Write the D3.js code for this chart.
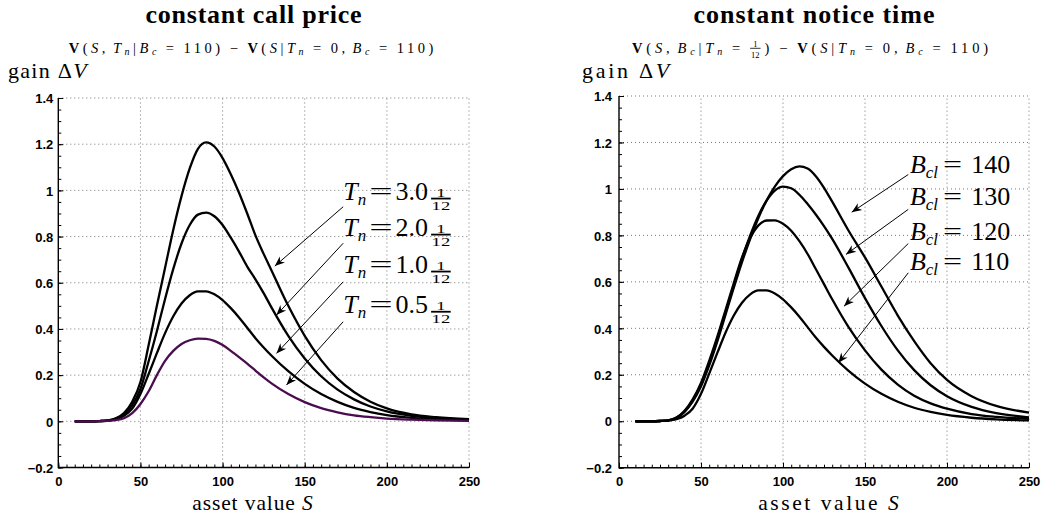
<!DOCTYPE html>
<html>
<head>
<meta charset="utf-8">
<script src="https://cdn.jsdelivr.net/npm/d3@7"></script>
<style>
  body { margin: 0; background: #fff; }
  svg { display: block; }
  text { white-space: pre; }
</style>
</head>
<body>
<svg id="fig" width="1044" height="518"></svg>
<script>
// ---- data -------------------------------------------------------------
// asset values S at which the gain curves are sampled
const assetValues = [10,20,25,30,35,40,45,50,55,60,65,70,75,80,85,90,95,100,105,110,
                     115,120,125,130,140,150,160,170,180,190,200,215,230,250];

// left panel: call barrier fixed at 110, notice time T_n varies
const gainTn30 = [0,0,0.001,0.004,0.013,0.036,0.085,0.17,0.33,0.5,0.665,0.83,0.975,1.095,1.18,1.208,1.19,1.14,1.07,0.99,
                  0.9,0.805,0.725,0.65,0.5,0.37,0.265,0.185,0.127,0.085,0.056,0.03,0.018,0.009];
const gainTn20 = [0,0,0.001,0.003,0.011,0.03,0.07,0.14,0.26,0.39,0.53,0.66,0.77,0.85,0.895,0.904,0.888,0.85,0.795,0.735,
                  0.67,0.615,0.555,0.49,0.37,0.272,0.195,0.137,0.095,0.064,0.043,0.024,0.014,0.007];
const gainTn10 = [0,0,0.001,0.003,0.009,0.024,0.055,0.118,0.205,0.295,0.382,0.455,0.51,0.546,0.563,0.563,0.55,0.525,0.49,0.45,
                  0.405,0.36,0.32,0.283,0.217,0.162,0.118,0.084,0.058,0.04,0.027,0.015,0.008,0.004];
const gainTn05 = [0,0,0.0005,0.002,0.005,0.013,0.035,0.075,0.13,0.2,0.262,0.305,0.335,0.351,0.358,0.357,0.348,0.33,0.305,0.278,
                  0.25,0.22,0.19,0.163,0.118,0.083,0.057,0.039,0.026,0.018,0.012,0.007,0.004,0.002];

// right panel: notice time fixed at 1/12, call barrier B_cl varies
const gainB140 = [0,0,0.001,0.003,0.013,0.04,0.085,0.15,0.24,0.345,0.46,0.575,0.685,0.785,0.875,0.95,1.01,1.055,1.085,1.097,
                  1.088,1.055,1.005,0.945,0.82,0.705,0.58,0.455,0.345,0.25,0.178,0.108,0.066,0.037];
const gainB130 = [0,0,0.001,0.004,0.015,0.043,0.09,0.16,0.25,0.355,0.47,0.585,0.7,0.8,0.885,0.95,0.993,1.01,1.003,0.975,
                  0.935,0.89,0.84,0.785,0.66,0.53,0.41,0.305,0.22,0.155,0.108,0.062,0.035,0.017];
const gainB120 = [0,0,0.001,0.004,0.016,0.045,0.095,0.165,0.26,0.365,0.48,0.595,0.705,0.79,0.843,0.864,0.865,0.85,0.82,0.775,
                  0.72,0.655,0.59,0.525,0.405,0.305,0.222,0.158,0.11,0.077,0.054,0.031,0.019,0.01];
const gainB110 = gainTn10; // same contract: T_n = 1/12, B_c = 110

const noticeLabels = ["3.0", "2.0", "1.0", "0.5"];
const barrierLabels = ["140", "130", "120", "110"];

const xTickValues = [0, 50, 100, 150, 200, 250];
const yTickValues = [-0.2, 0, 0.2, 0.4, 0.6, 0.8, 1, 1.2, 1.4];
const yTickLabels = ["\u22120.2", "0", "0.2", "0.4", "0.6", "0.8", "1", "1.2", "1.4"];

// ---- drawing ----------------------------------------------------------
const svg = d3.select("#fig");
const SERIF = "'Liberation Serif', 'Times New Roman', serif";
const SANS = "'Liberation Sans', Arial, Helvetica, sans-serif";

// Lays out a run of math-like pieces (plain text, sub/superscripts, small
// fractions). With opt.fit the run is tracked out to the given width.
function mathRun(parent, pieces, opt) {
  const g = parent.append("g");
  const items = [];
  pieces.forEach(p => {
    if (p.gap) { items.push({ gap: p.gap }); return; }
    if (p.frac) {
      const fg = g.append("g");
      const sx = p.sx || 1;
      const mk = s => fg.append("text").text(s)
        .attr("font-family", SERIF).attr("font-size", p.size).attr("text-anchor", "middle");
      const num = mk(p.frac[0]), den = mk(p.frac[1]);
      const w0 = Math.max(num.node().getComputedTextLength(), den.node().getComputedTextLength());
      const w = w0 * sx + (p.pad || 2);
      num.attr("transform", `translate(${w / 2},${p.bar - p.up}) scale(${sx},1)`);
      den.attr("transform", `translate(${w / 2},${p.bar + p.down}) scale(${sx},1)`);
      fg.append("line").attr("x1", 0).attr("x2", w).attr("y1", p.bar).attr("y2", p.bar)
        .attr("stroke", "#000").attr("stroke-width", p.lw || 1);
      items.push({ node: fg, w, n: 1, frac: true, after: p.after || 0 });
      return;
    }
    const sx = p.sx || 1;
    const t = g.append("text").text(p.t)
      .attr("font-family", p.family || opt.family || SERIF)
      .attr("font-size", p.size || opt.size)
      .attr("font-style", p.it ? "italic" : "normal")
      .attr("font-weight", (p.b || opt.bold) ? "bold" : "normal");
    items.push({ node: t, w: t.node().getComputedTextLength() * sx, n: p.t.length, sx,
                 dy: p.dy || 0, after: p.after || 0 });
  });
  let W = 0, N = 0;
  items.forEach(it => { W += it.gap || (it.w + it.after); N += it.n || 0; });
  const ls = opt.fit ? Math.max(0, (opt.fit - W) / N) : 0;
  let x = 0;
  items.forEach(it => {
    if (it.gap) { x += it.gap; return; }
    if (it.frac) {
      it.node.attr("transform", `translate(${x},0)`);
      x += it.w + ls + it.after;
      return;
    }
    it.node.attr("letter-spacing", ls / it.sx)
      .attr("transform", `translate(${x},${it.dy}) scale(${it.sx},1)`);
    x += it.w + ls * it.n + it.after;
  });
  const total = x - ls;
  const shift = opt.anchor === "middle" ? -total / 2 : 0;
  g.attr("transform", `translate(${opt.x + shift},${opt.y})`);
  return g;
}

function arrow(g, x1, y1, x2, y2) {
  const ang = Math.atan2(y2 - y1, x2 - x1) * 180 / Math.PI;
  g.append("line").attr("x1", x1).attr("y1", y1).attr("x2", x2).attr("y2", y2)
    .attr("stroke", "#000").attr("stroke-width", 1);
  g.append("path")
    .attr("d", "M0,0 L-10,-4 L-7,0 L-10,4 Z")
    .attr("transform", `translate(${x2},${y2}) rotate(${ang})`)
    .attr("fill", "#000");
}

function panel(cfg) {
  const x = d3.scaleLinear().domain([0, 250]).range([cfg.left, cfg.right]);
  const y = d3.scaleLinear().domain([-0.2, 1.4]).range([cfg.bottom, cfg.top]);
  const g = svg.append("g");

  // dotted grid, including the closing top and right edges
  const grid = g.append("g").attr("stroke", "#777").attr("stroke-width", 1)
    .attr("stroke-dasharray", "1,3");
  xTickValues.filter(v => v > 0).forEach(v => {
    grid.append("line").attr("x1", x(v)).attr("x2", x(v))
      .attr("y1", y(-0.2)).attr("y2", y(1.4));
  });
  yTickValues.filter(v => v > -0.2).forEach(v => {
    grid.append("line").attr("x1", x(0)).attr("x2", x(250))
      .attr("y1", y(v)).attr("y2", y(v));
  });

  // inward minor ticks
  const minorX = d3.range(0, 251, 5);
  const minorY = d3.range(-0.2, 1.401, 0.05);
  g.append("g").attr("transform", `translate(0,${cfg.bottom})`)
    .call(d3.axisBottom(x).tickValues(minorX).tickSizeInner(-3).tickSizeOuter(0).tickFormat(""))
    .call(a => a.select(".domain").remove())
    .selectAll("line").attr("stroke", "#000");
  g.append("g").attr("transform", `translate(${cfg.left},0)`)
    .call(d3.axisLeft(y).tickValues(minorY).tickSizeInner(-3).tickSizeOuter(0).tickFormat(""))
    .call(a => a.select(".domain").remove())
    .selectAll("line").attr("stroke", "#000");

  // major ticks with labels
  const xa = g.append("g").attr("transform", `translate(0,${cfg.bottom})`)
    .call(d3.axisBottom(x).tickValues(xTickValues).tickSizeInner(-5).tickSizeOuter(0));
  xa.select(".domain").remove();
  xa.selectAll("line").attr("stroke", "#000");
  xa.selectAll("text").attr("y", 18).attr("dy", 0)
    .attr("font-family", SANS).attr("font-weight", "bold").attr("font-size", 13).attr("fill", "#000");

  const ya = g.append("g").attr("transform", `translate(${cfg.left},0)`)
    .call(d3.axisLeft(y).tickValues(yTickValues).tickSizeInner(-5).tickSizeOuter(0)
      .tickFormat((d, i) => yTickLabels[i]));
  ya.select(".domain").remove();
  ya.selectAll("line").attr("stroke", "#000");
  ya.selectAll("text").attr("x", -cfg.labelGap).attr("dy", "0.36em")
    .attr("font-family", SANS).attr("font-weight", "bold").attr("font-size", 13).attr("fill", "#000");

  // axis lines (left and bottom)
  g.append("path")
    .attr("d", `M${x(0)},${y(1.4)}V${y(-0.2)}H${x(250)}`)
    .attr("fill", "none").attr("stroke", "#000").attr("stroke-width", 1.4);

  // curves
  const line = d3.line().x((d, i) => x(assetValues[i])).y(d => y(d)).curve(d3.curveMonotoneX);
  cfg.series.forEach(s => {
    g.append("path").datum(s.values).attr("d", line)
      .attr("fill", "none").attr("stroke", s.color).attr("stroke-width", 2.3)
      .attr("stroke-linejoin", "round");
  });

  // annotations
  cfg.notes.forEach(n => {
    arrow(g, x(n.from[0]), y(n.from[1]), x(n.to[0]), y(n.to[1]));
    mathRun(g, n.pieces, { x: x(n.text[0]), y: y(n.text[1]), size: 26, anchor: "start" });
  });

  // titles and axis names
  mathRun(svg, [{ t: cfg.title }], { x: cfg.titleX, y: 23, size: 26, bold: true,
    anchor: "middle", fit: cfg.titleW });
  mathRun(svg, cfg.subtitle, { x: cfg.subX, y: 52.5, size: 14.5, anchor: "middle", fit: cfg.subW });
  mathRun(svg, [
    { t: "gain " }, { t: "\u0394" }, { t: "V", it: true }
  ], { x: cfg.gainX, y: 77.5, size: 22, anchor: "start", fit: cfg.gainW });
  mathRun(svg, [
    { t: "asset value " }, { t: "S", it: true }
  ], { x: cfg.xNameX, y: 509.5, size: 21.5, anchor: "middle", fit: cfg.xNameW });
}

function tnPieces(v) {
  return [
    { t: "T", it: true },
    { t: "n", it: true, size: 17, dy: 5, after: 3 },
    { t: "=", sx: 1.6, after: 3 },
    { t: v, after: 3 },
    { frac: ["1", "12"], size: 12, sx: 1.55, bar: -1.5, up: 1.8, down: 11.4, lw: 1.8, pad: 1 }
  ];
}
function bPieces(v) {
  return [
    { t: "B", it: true },
    { t: "cl", it: true, size: 17, dy: 5, after: 5 },
    { t: "=", sx: 1.3, after: 9 },
    { t: v }
  ];
}

// subtitle pieces: subscripts are small italics set below the baseline
const sub = (t) => ({ t, it: true, size: 10, dy: 2.5 });
const EQ = [{ gap: 6 }, { t: "=" }, { gap: 6 }];
const SUBL = [
  { t: "V", b: true }, { t: "(" }, { t: "S", it: true }, { t: "," }, { gap: 4 }, { t: "T", it: true }, sub("n"),
  { t: "|" }, { t: "B", it: true }, sub("c"), ...EQ, { t: "110)" }, { gap: 6 }, { t: "\u2212" }, { gap: 6 },
  { t: "V", b: true }, { t: "(" }, { t: "S", it: true }, { t: "|" }, { t: "T", it: true }, sub("n"),
  ...EQ, { t: "0," }, { gap: 4 }, { t: "B", it: true }, sub("c"), ...EQ, { t: "110)" }
];
const SUBR = [
  { t: "V", b: true }, { t: "(" }, { t: "S", it: true }, { t: "," }, { gap: 4 }, { t: "B", it: true }, sub("c"),
  { t: "|" }, { t: "T", it: true }, sub("n"), ...EQ,
  { frac: ["1", "12"], size: 8.5, bar: -4.2, up: 1.2, down: 9.2, lw: 0.8 },
  { t: ")" }, { gap: 6 }, { t: "\u2212" }, { gap: 6 },
  { t: "V", b: true }, { t: "(" }, { t: "S", it: true }, { t: "|" }, { t: "T", it: true }, sub("n"),
  ...EQ, { t: "0," }, { gap: 4 }, { t: "B", it: true }, sub("c"), ...EQ, { t: "110)" }
];

panel({
  left: 58.3, right: 469, top: 98, bottom: 467.5, labelGap: 5,
  title: "constant call price", titleX: 253.5, titleW: 217,
  subtitle: SUBL, subX: 251, subW: 368,
  gainX: 8, gainW: 80, xNameX: 252.5, xNameW: 121.5,
  series: [
    { values: gainTn30, color: "#000" },
    { values: gainTn20, color: "#000" },
    { values: gainTn10, color: "#000" },
    { values: gainTn05, color: "#4a0d4f" }
  ],
  notes: [
    { pieces: tnPieces(noticeLabels[0]), text: [173.4, 0.958], from: [173.4, 0.929], to: [131.8, 0.672] },
    { pieces: tnPieces(noticeLabels[1]), text: [173.4, 0.802], from: [173.4, 0.771], to: [132.8, 0.46] },
    { pieces: tnPieces(noticeLabels[2]), text: [173.4, 0.642], from: [173.4, 0.604], to: [132.8, 0.294] },
    { pieces: tnPieces(noticeLabels[3]), text: [173.4, 0.468], from: [173.4, 0.431], to: [138.9, 0.157] }
  ]
});

panel({
  left: 619, right: 1029, top: 96, bottom: 467.7, labelGap: 7,
  title: "constant notice time", titleX: 814, titleW: 242,
  subtitle: SUBR, subX: 810, subW: 360,
  gainX: 582, gainW: 90, xNameX: 828.5, xNameW: 143,
  series: [
    { values: gainB140, color: "#000" },
    { values: gainB130, color: "#000" },
    { values: gainB120, color: "#000" },
    { values: gainB110, color: "#000" }
  ],
  notes: [
    { pieces: bPieces(barrierLabels[0]), text: [177.4, 1.07], from: [176.4, 1.062], to: [141.9, 0.9] },
    { pieces: bPieces(barrierLabels[1]), text: [177.4, 0.929], from: [176.4, 0.912], to: [138.4, 0.718] },
    { pieces: bPieces(barrierLabels[2]), text: [177.4, 0.782], from: [176.4, 0.765], to: [137.2, 0.495] },
    { pieces: bPieces(barrierLabels[3]), text: [177.4, 0.653], from: [176.4, 0.639], to: [133.7, 0.251] }
  ]
});
</script>
</body>
</html>
